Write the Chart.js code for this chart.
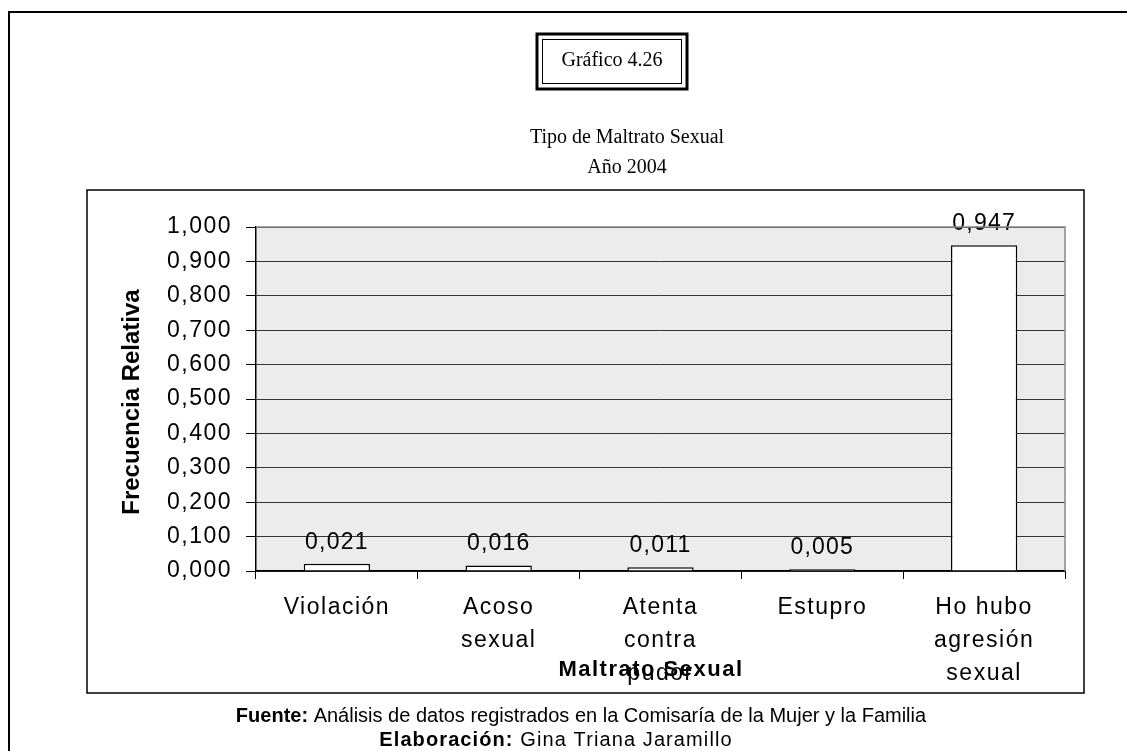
<!DOCTYPE html>
<html><head><meta charset="utf-8">
<script src="https://cdn.jsdelivr.net/npm/chart.js@4"></script>
<style>html,body{margin:0;padding:0;background:#fff;}canvas{display:block}</style>
</head><body>
<canvas id="c" width="1127" height="751"></canvas>
<script>
const categories = ['Violación', ['Acoso', 'sexual'], ['Atenta', 'contra', 'pudor'], 'Estupro', ['Ho hubo', 'agresión', 'sexual']];
const values = [0.021, 0.016, 0.011, 0.005, 0.947];
const valueLabels = ['0,021', '0,016', '0,011', '0,005', '0,947'];
const yTickLabels = ['0,000', '0,100', '0,200', '0,300', '0,400', '0,500', '0,600', '0,700', '0,800', '0,900', '1,000'];

const SANS = '"Liberation Sans", Arial, sans-serif';
const SERIF = '"Liberation Serif", "Times New Roman", serif';

const decor = {
  id: 'decor',
  beforeDraw(chart) {
    const ctx = chart.ctx, a = chart.chartArea;
    ctx.save();
    ctx.fillStyle = '#fff';
    ctx.fillRect(0, 0, chart.width, chart.height);
    // outer frame
    ctx.strokeStyle = '#000';
    ctx.lineWidth = 2;
    ctx.beginPath();
    ctx.moveTo(9, 760); ctx.lineTo(9, 12); ctx.lineTo(1130, 12);
    ctx.stroke();
    // inner chart box
    ctx.lineWidth = 1.5;
    ctx.strokeRect(87, 190, 997, 503);
    // plot background
    ctx.fillStyle = '#ececec';
    ctx.fillRect(a.left, a.top, a.right - a.left, a.bottom - a.top);
    // title box (double border)
    ctx.lineWidth = 3;
    ctx.strokeRect(537, 34, 150, 55);
    ctx.lineWidth = 1;
    ctx.strokeRect(542.5, 39.5, 139, 44);
    ctx.fillStyle = '#000';
    ctx.textAlign = 'center';
    ctx.textBaseline = 'middle';
    ctx.font = '20px ' + SERIF;
    ctx.fillText('Gráfico 4.26', 612, 61);
    ctx.fillText('Tipo de Maltrato Sexual', 627, 138);
    ctx.fillText('Año 2004', 627, 168);
    // footer
    const line = (bold, rest, cx, cy, sp) => {
      ctx.letterSpacing = sp + 'px';
      ctx.font = 'bold 20px ' + SANS;
      const wb = ctx.measureText(bold).width;
      ctx.font = '20px ' + SANS;
      const wr = ctx.measureText(rest).width;
      const x0 = cx - (wb + wr) / 2;
      ctx.textAlign = 'left';
      ctx.font = 'bold 20px ' + SANS;
      ctx.fillText(bold, x0, cy);
      ctx.font = '20px ' + SANS;
      ctx.fillText(rest, x0 + wb, cy);
      ctx.letterSpacing = '0px';
    };
    line('Fuente:', ' Análisis de datos registrados en la Comisaría de la Mujer y la Familia', 581, 716, 0);
    line('Elaboración:', ' Gina Triana Jaramillo', 556, 740, 1.1);
    ctx.restore();
    // letter spacing for the library's own tick labels
    ctx.letterSpacing = '1.5px';
  },
  afterDraw(chart) {
    const ctx = chart.ctx, a = chart.chartArea;
    ctx.letterSpacing = '0px';
    ctx.save();
    // plot right/top border
    ctx.strokeStyle = '#888';
    ctx.lineWidth = 1.5;
    ctx.beginPath();
    ctx.moveTo(a.left, a.top); ctx.lineTo(a.right, a.top); ctx.lineTo(a.right, a.bottom);
    ctx.stroke();
    // x axis title
    ctx.fillStyle = '#000';
    ctx.textAlign = 'center';
    ctx.textBaseline = 'middle';
    ctx.font = 'bold 22px ' + SANS;
    ctx.letterSpacing = '1.5px';
    ctx.fillText('Maltrato Sexual', 651, 670);
    ctx.letterSpacing = '0px';
    // y axis title
    ctx.translate(132, 402);
    ctx.rotate(-Math.PI / 2);
    ctx.font = 'bold 24px ' + SANS;
    ctx.fillText('Frecuencia Relativa', 0, 0);
    ctx.restore();
  },
  afterDatasetsDraw(chart) {
    const ctx = chart.ctx;
    const meta = chart.getDatasetMeta(0);
    ctx.save();
    ctx.fillStyle = '#000';
    ctx.textAlign = 'center';
    ctx.textBaseline = 'alphabetic';
    ctx.font = '23px ' + SANS;
    ctx.letterSpacing = '1.2px';
    meta.data.forEach((bar, i) => {
      ctx.fillText(valueLabels[i], bar.x, bar.y - 15);
    });
    ctx.restore();
  }
};

new Chart(document.getElementById('c'), {
  type: 'bar',
  data: {
    labels: categories,
    datasets: [{
      data: values,
      backgroundColor: '#ffffff',
      borderColor: '#000000',
      borderWidth: 1.5,
      categoryPercentage: 1,
      barPercentage: 0.41
    }]
  },
  options: {
    responsive: false,
    animation: false,
    devicePixelRatio: 1,
    layout: { padding: { left: 0, top: 227, right: 62, bottom: 0 } },
    plugins: { legend: { display: false }, title: { display: false }, tooltip: { enabled: false } },
    scales: {
      y: {
        min: 0, max: 1,
        afterFit: s => { s.width = 256; },
        ticks: {
          stepSize: 0.1,
          callback: (v, i) => yTickLabels[i],
          color: '#000',
          font: { family: SANS, size: 23 },
          padding: 14
        },
        grid: { color: '#333', lineWidth: 1, tickLength: 10, tickColor: '#000' },
        border: { color: '#000', width: 1.5 }
      },
      x: {
        afterFit: s => { s.height = 180; },
        ticks: {
          color: '#000',
          font: { family: SANS, size: 23, lineHeight: 1.435 },
          padding: 12,
          maxRotation: 0,
          autoSkip: false
        },
        grid: { drawOnChartArea: false, offset: true, tickLength: 8, color: '#000' },
        border: { color: '#000', width: 1.5 }
      }
    }
  },
  plugins: [decor]
});
</script>
</body></html>
